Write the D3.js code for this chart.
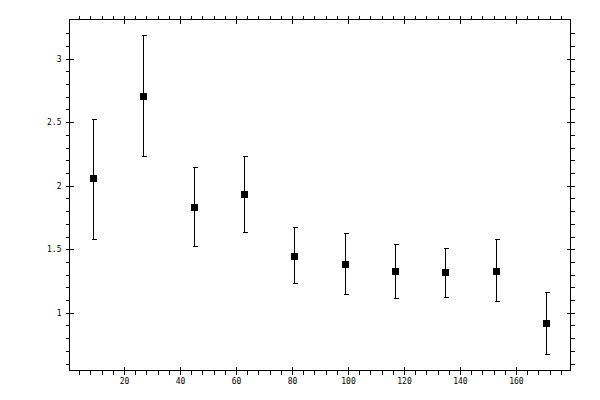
<!DOCTYPE html>
<html>
<head>
<meta charset="utf-8">
<script src="https://cdn.jsdelivr.net/npm/d3@7"></script>
<style>
  body { margin: 0; background: #fff; }
  svg text { font-family: "DejaVu Sans Mono", monospace; font-size: 8px; fill: #000; }
</style>
</head>
<body>
<svg id="chart" width="600" height="400"></svg>
<script>
// bin centres (x) and measured values with error bounds
const binCentres = [9, 27, 45, 63, 81, 99, 117, 135, 153, 171];
const means = [2.053, 2.698, 1.832, 1.927, 1.446, 1.383, 1.328, 1.313, 1.328, 0.919];
const upper = [2.522, 3.179, 2.139, 2.226, 1.667, 1.627, 1.541, 1.509, 1.573, 1.157];
const lower = [1.580, 2.226, 1.525, 1.630, 1.228, 1.142, 1.116, 1.124, 1.092, 0.675];

const xMajorTicks = [20, 40, 60, 80, 100, 120, 140, 160];
const yMajorTicks = [1, 1.5, 2, 2.5, 3];

const plotLeft = 69, plotRight = 570, plotTop = 19, plotBottom = 370;

const x = d3.scaleLinear().domain([0.5, 179.5]).range([plotLeft, plotRight]);
const y = d3.scaleLinear().domain([0.546, 3.307]).range([plotBottom, plotTop]);

// minor ticks: every 4 on x, every 0.1 on y
const xMinor = d3.range(4, 180, 4).filter(v => !xMajorTicks.includes(v));
const yMinor = d3.range(6, 34).map(v => v / 10)
  .filter(v => v < 3.29 && !yMajorTicks.some(m => Math.abs(m - v) < 1e-6));

const svg = d3.select("#chart");
const g = svg.append("g").attr("transform", "translate(0.5,0.5)");

// frame
g.append("rect")
  .attr("x", plotLeft).attr("y", plotTop)
  .attr("width", plotRight - plotLeft).attr("height", plotBottom - plotTop)
  .attr("fill", "none").attr("stroke", "#000")
  .attr("shape-rendering", "crispEdges");

function styleAxis(sel) {
  sel.select(".domain").remove();
  sel.selectAll("line").attr("stroke", "#000").attr("shape-rendering", "crispEdges");
}

// minor ticks, outward only
g.append("g").attr("transform", `translate(0,${plotBottom})`)
  .call(d3.axisBottom(x).tickValues(xMinor).tickSize(4).tickFormat(""))
  .call(styleAxis);
g.append("g").attr("transform", `translate(0,${plotTop})`)
  .call(d3.axisTop(x).tickValues(xMinor).tickSize(4).tickFormat(""))
  .call(styleAxis);
g.append("g").attr("transform", `translate(${plotLeft},0)`)
  .call(d3.axisLeft(y).tickValues(yMinor).tickSize(4).tickFormat(""))
  .call(styleAxis);
g.append("g").attr("transform", `translate(${plotRight},0)`)
  .call(d3.axisRight(y).tickValues(yMinor).tickSize(4).tickFormat(""))
  .call(styleAxis);

// major ticks cross the frame: outward axes plus inward axes
g.append("g").attr("transform", `translate(0,${plotBottom})`)
  .call(d3.axisBottom(x).tickValues(xMajorTicks).tickSize(4).tickPadding(4).tickFormat(d3.format("d")))
  .call(styleAxis);
g.append("g").attr("transform", `translate(0,${plotBottom})`)
  .call(d3.axisTop(x).tickValues(xMajorTicks).tickSize(4).tickFormat(""))
  .call(styleAxis);
g.append("g").attr("transform", `translate(0,${plotTop})`)
  .call(d3.axisTop(x).tickValues(xMajorTicks).tickSize(4).tickFormat(""))
  .call(styleAxis);
g.append("g").attr("transform", `translate(0,${plotTop})`)
  .call(d3.axisBottom(x).tickValues(xMajorTicks).tickSize(4).tickFormat(""))
  .call(styleAxis);
g.append("g").attr("transform", `translate(${plotLeft},0)`)
  .call(d3.axisLeft(y).tickValues(yMajorTicks).tickSize(4).tickPadding(4).tickFormat(d => String(d)))
  .call(styleAxis);
g.append("g").attr("transform", `translate(${plotLeft},0)`)
  .call(d3.axisRight(y).tickValues(yMajorTicks).tickSize(4).tickFormat(""))
  .call(styleAxis);
g.append("g").attr("transform", `translate(${plotRight},0)`)
  .call(d3.axisRight(y).tickValues(yMajorTicks).tickSize(4).tickFormat(""))
  .call(styleAxis);
g.append("g").attr("transform", `translate(${plotRight},0)`)
  .call(d3.axisLeft(y).tickValues(yMajorTicks).tickSize(4).tickFormat(""))
  .call(styleAxis);

g.selectAll("text").attr("font-size", 8).attr("font-family", "DejaVu Sans Mono, monospace");

// error bars
const pts = binCentres.map((c, i) => ({ c, m: means[i], hi: upper[i], lo: lower[i] }));
const bars = g.append("g").attr("stroke", "#000").attr("shape-rendering", "crispEdges");
bars.selectAll(".stem").data(pts).join("line")
  .attr("x1", d => Math.round(x(d.c))).attr("x2", d => Math.round(x(d.c)))
  .attr("y1", d => y(d.hi)).attr("y2", d => y(d.lo));
bars.selectAll(".capTop").data(pts).join("line")
  .attr("x1", d => Math.round(x(d.c)) - 2).attr("x2", d => Math.round(x(d.c)) + 3)
  .attr("y1", d => Math.round(y(d.hi))).attr("y2", d => Math.round(y(d.hi)));
bars.selectAll(".capBot").data(pts).join("line")
  .attr("x1", d => Math.round(x(d.c)) - 2).attr("x2", d => Math.round(x(d.c)) + 3)
  .attr("y1", d => Math.round(y(d.lo))).attr("y2", d => Math.round(y(d.lo)));

// square markers
g.append("g").selectAll("rect").data(pts).join("rect")
  .attr("x", d => Math.round(x(d.c)) - 3.5)
  .attr("y", d => Math.round(y(d.m)) - 3.5)
  .attr("width", 7).attr("height", 7)
  .attr("fill", "#000")
  .attr("shape-rendering", "crispEdges");
</script>
</body>
</html>
